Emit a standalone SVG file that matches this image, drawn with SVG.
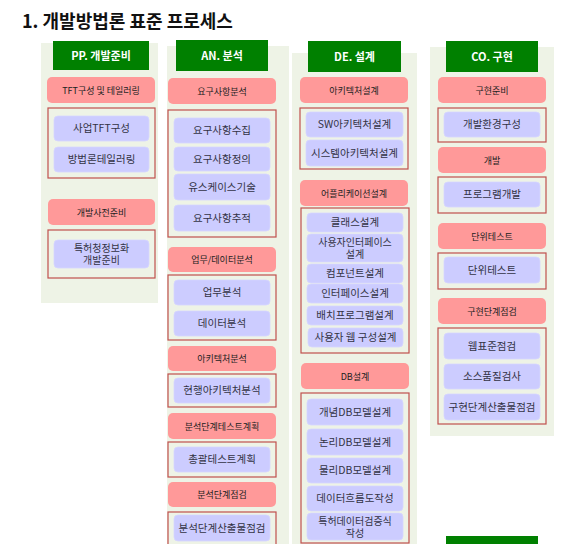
<svg xmlns="http://www.w3.org/2000/svg" width="579" height="544" viewBox="0 0 579 544">
<style>
.bg{fill:#eef3e6}
.hdr{fill:#008000}
.cat{fill:#ff9999}
.grp{fill:none;stroke:#c0504d;stroke-width:1.2}
.task{fill:#ccccff;stroke:#d6d6ff;stroke-width:0.8}
text{font-family:"Noto Sans CJK KR","Noto Sans",sans-serif;text-anchor:middle}
.ht{fill:#ffffff;font-size:11px;font-weight:bold}
.ct{fill:#222222;font-size:9px}
.tt{fill:#333344;font-size:10.5px}
.t2{fill:#333344;font-size:10px}
.title{font-size:18px;font-weight:bold;fill:#111111;text-anchor:start}
</style>
<rect width="579" height="544" fill="#ffffff"/>
<text class="title" x="22" y="28">1. 개발방법론 표준 프로세스</text>

<!-- column backgrounds -->
<rect class="bg" x="41" y="43" width="117" height="260"/>
<rect class="bg" x="167" y="46" width="122" height="498"/>
<rect class="bg" x="292" y="53" width="125" height="491"/>
<rect class="bg" x="430" y="47" width="124" height="389"/>

<!-- Column PP -->
<g id="hdr-pp"><rect class="hdr" x="53" y="41" width="96" height="29"/><text class="ht" x="101" y="60">PP. 개발준비</text></g>
<g id="cat-tft"><rect class="cat" x="47" y="77" width="108" height="26" rx="5"/><text class="ct" x="101" y="93.5">TFT구성 및 테일러링</text></g>
<g id="grp-tft"><rect class="grp" x="48" y="108" width="107" height="70"/></g>
<g id="t-tft1"><rect class="task" x="54" y="116" width="95" height="25" rx="4"/><text class="tt" x="101.5" y="132">사업TFT구성</text></g>
<g id="t-tft2"><rect class="task" x="54" y="147" width="95" height="25" rx="4"/><text class="tt" x="101.5" y="163">방법론테일러링</text></g>
<g id="cat-pre"><rect class="cat" x="48" y="199" width="107" height="26" rx="5"/><text class="ct" x="101.5" y="215.5">개발사전준비</text></g>
<g id="grp-pre"><rect class="grp" x="48" y="230" width="107" height="48"/></g>
<g id="t-pre1"><rect class="task" x="54" y="240" width="95" height="28" rx="4"/><text class="t2" x="101.5" y="252">특허청정보화</text><text class="t2" x="101.5" y="264">개발준비</text></g>

<!-- Column AN -->
<g id="hdr-an"><rect class="hdr" x="176" y="40" width="92" height="31"/><text class="ht" x="222" y="60">AN. 분석</text></g>
<g id="cat-req"><rect class="cat" x="168" y="78" width="108" height="26" rx="5"/><text class="ct" x="222" y="94.5">요구사항분석</text></g>
<g id="grp-req"><rect class="grp" x="168" y="110" width="108" height="127"/></g>
<g id="t-req1"><rect class="task" x="174" y="118" width="96" height="25" rx="4"/><text class="tt" x="222" y="134">요구사항수집</text></g>
<g id="t-req2"><rect class="task" x="174" y="147" width="96" height="24" rx="4"/><text class="tt" x="222" y="162.5">요구사항정의</text></g>
<g id="t-req3"><rect class="task" x="174" y="174" width="96" height="26" rx="4"/><text class="tt" x="222" y="190.5">유스케이스기술</text></g>
<g id="t-req4"><rect class="task" x="174" y="205" width="96" height="26" rx="4"/><text class="tt" x="222" y="221.5">요구사항추적</text></g>
<g id="cat-biz"><rect class="cat" x="168" y="247" width="108" height="25" rx="5"/><text class="ct" x="222" y="262.5">업무/데이터분석</text></g>
<g id="grp-biz"><rect class="grp" x="168" y="275" width="108" height="65"/></g>
<g id="t-biz1"><rect class="task" x="174" y="280" width="96" height="25" rx="4"/><text class="tt" x="222" y="296">업무분석</text></g>
<g id="t-biz2"><rect class="task" x="174" y="311" width="96" height="25" rx="4"/><text class="tt" x="222" y="327">데이터분석</text></g>
<g id="cat-arch"><rect class="cat" x="168" y="346" width="108" height="25" rx="5"/><text class="ct" x="222" y="361.5">아키텍처분석</text></g>
<g id="grp-arch"><rect class="grp" x="168" y="374" width="108" height="33"/></g>
<g id="t-arch1"><rect class="task" x="174" y="378" width="96" height="25" rx="4"/><text class="tt" x="222" y="394">현행아키텍처분석</text></g>
<g id="cat-test"><rect class="cat" x="168" y="413" width="108" height="26" rx="5"/><text class="ct" x="222" y="429.5">분석단계테스트계획</text></g>
<g id="grp-test"><rect class="grp" x="168" y="442" width="108" height="35"/></g>
<g id="t-test1"><rect class="task" x="174" y="447" width="96" height="25" rx="4"/><text class="tt" x="222" y="463">총괄테스트계획</text></g>
<g id="cat-chk"><rect class="cat" x="168" y="482" width="108" height="25" rx="5"/><text class="ct" x="222" y="497.5">분석단계점검</text></g>
<g id="grp-chk"><rect class="grp" x="168" y="512" width="108" height="40"/></g>
<g id="t-chk1"><rect class="task" x="174" y="515" width="96" height="26" rx="4"/><text class="tt" x="222" y="531.5">분석단계산출물점검</text></g>

<!-- Column DE -->
<g id="hdr-de"><rect class="hdr" x="308" y="41" width="93" height="31"/><text class="ht" x="354.5" y="61">DE. 설계</text></g>
<g id="cat-darch"><rect class="cat" x="300" y="77" width="108" height="26" rx="5"/><text class="ct" x="354" y="93.5">아키텍처설계</text></g>
<g id="grp-darch"><rect class="grp" x="300" y="108" width="108" height="61"/></g>
<g id="t-darch1"><rect class="task" x="306" y="112" width="97" height="25" rx="4"/><text class="tt" x="354.5" y="128">SW아키텍처설계</text></g>
<g id="t-darch2"><rect class="task" x="306" y="140" width="97" height="26" rx="4"/><text class="tt" x="354.5" y="156.5">시스템아키텍처설계</text></g>
<g id="cat-app"><rect class="cat" x="300" y="180" width="108" height="26" rx="5"/><text class="ct" x="354" y="196.5">어플리케이션설계</text></g>
<g id="grp-app"><rect class="grp" x="301" y="208" width="108" height="145"/></g>
<g id="t-app1"><rect class="task" x="307" y="213" width="96" height="19" rx="4"/><text class="tt" x="355" y="226">클래스설계</text></g>
<g id="t-app2"><rect class="task" x="307" y="234" width="96" height="28" rx="4"/><text class="t2" x="355" y="246">사용자인터페이스</text><text class="t2" x="355" y="258">설계</text></g>
<g id="t-app3"><rect class="task" x="307" y="264" width="96" height="19" rx="4"/><text class="tt" x="355" y="277">컴포넌트설계</text></g>
<g id="t-app4"><rect class="task" x="307" y="284" width="96" height="19" rx="4"/><text class="tt" x="355" y="297">인터페이스설계</text></g>
<g id="t-app5"><rect class="task" x="307" y="306" width="96" height="19" rx="4"/><text class="tt" x="355" y="319">배치프로그램설계</text></g>
<g id="t-app6"><rect class="task" x="308" y="328" width="95" height="19" rx="4"/><text class="tt" x="355.5" y="341">사용자 웹 구성설계</text></g>
<g id="cat-db"><rect class="cat" x="301" y="363" width="108" height="26" rx="5"/><text class="ct" x="355" y="379.5">DB설계</text></g>
<g id="grp-db"><rect class="grp" x="301" y="393" width="108" height="150"/></g>
<g id="t-db1"><rect class="task" x="307" y="399" width="96" height="26" rx="4"/><text class="tt" x="355" y="415.5">개념DB모델설계</text></g>
<g id="t-db2"><rect class="task" x="307" y="429" width="96" height="26" rx="4"/><text class="tt" x="355" y="445.5">논리DB모델설계</text></g>
<g id="t-db3"><rect class="task" x="307" y="458" width="96" height="25" rx="4"/><text class="tt" x="355" y="474">물리DB모델설계</text></g>
<g id="t-db4"><rect class="task" x="307" y="486" width="96" height="25" rx="4"/><text class="tt" x="355" y="502">데이터흐름도작성</text></g>
<g id="t-db5"><rect class="task" x="307" y="513" width="96" height="27" rx="4"/><text class="t2" x="355" y="525">특허데이터검증식</text><text class="t2" x="355" y="537">작성</text></g>

<!-- Column CO -->
<g id="hdr-co"><rect class="hdr" x="446" y="41" width="92" height="31"/><text class="ht" x="492" y="61">CO. 구현</text></g>
<g id="cat-prep"><rect class="cat" x="438" y="77" width="108" height="26" rx="5"/><text class="ct" x="492" y="93.5">구현준비</text></g>
<g id="grp-prep"><rect class="grp" x="438" y="108" width="108" height="34"/></g>
<g id="t-prep1"><rect class="task" x="444" y="112" width="96" height="25" rx="4"/><text class="tt" x="492" y="128">개발환경구성</text></g>
<g id="cat-dev"><rect class="cat" x="438" y="147" width="108" height="26" rx="5"/><text class="ct" x="492" y="163.5">개발</text></g>
<g id="grp-dev"><rect class="grp" x="438" y="177" width="108" height="36"/></g>
<g id="t-dev1"><rect class="task" x="444" y="182" width="96" height="25" rx="4"/><text class="tt" x="492" y="198">프로그램개발</text></g>
<g id="cat-unit"><rect class="cat" x="438" y="223" width="108" height="26" rx="5"/><text class="ct" x="492" y="239.5">단위테스트</text></g>
<g id="grp-unit"><rect class="grp" x="438" y="253" width="108" height="36"/></g>
<g id="t-unit1"><rect class="task" x="444" y="257" width="96" height="26" rx="4"/><text class="tt" x="492" y="273.5">단위테스트</text></g>
<g id="cat-cchk"><rect class="cat" x="438" y="298" width="108" height="26" rx="5"/><text class="ct" x="492" y="314.5">구현단계점검</text></g>
<g id="grp-cchk"><rect class="grp" x="438" y="328" width="108" height="96"/></g>
<g id="t-cchk1"><rect class="task" x="444" y="333" width="96" height="26" rx="4"/><text class="tt" x="492" y="349.5">웹표준점검</text></g>
<g id="t-cchk2"><rect class="task" x="444" y="364" width="96" height="25" rx="4"/><text class="tt" x="492" y="380">소스품질검사</text></g>
<g id="t-cchk3"><rect class="task" x="444" y="394" width="96" height="26" rx="4"/><text class="tt" x="492" y="410.5">구현단계산출물점검</text></g>

<g id="hdr-next"><rect class="hdr" x="446" y="536" width="92" height="10"/></g>
</svg>
